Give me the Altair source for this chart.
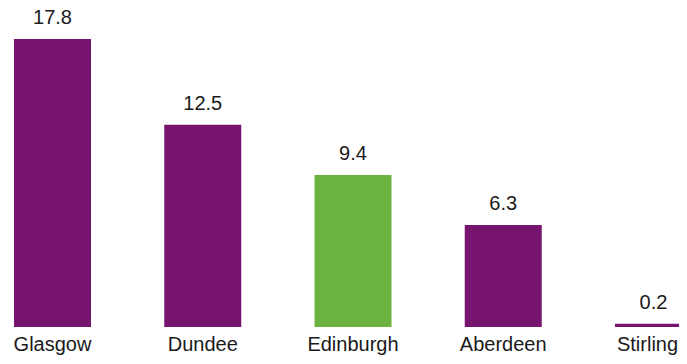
import altair as alt
import pandas as pd

cities = ["Glasgow", "Dundee", "Edinburgh", "Aberdeen", "Stirling"]
values = [17.8, 12.5, 9.4, 6.3, 0.2]
groups = ["other", "other", "highlight", "other", "other"]

df = pd.DataFrame({"city": cities, "value": values, "group": groups})

x = alt.X("city:N", sort=cities, axis=None,
          scale=alt.Scale(range=[6, 684], paddingInner=0.4875, paddingOuter=0, round=False))
y = alt.Y("value:Q", axis=None,
          scale=alt.Scale(domain=[0, 19.72], nice=False, zero=True))

bars = alt.Chart(df).mark_bar().encode(
    x=x, y=y,
    color=alt.Color("group:N",
                    scale=alt.Scale(domain=["other", "highlight"],
                                    range=["#76146F", "#6DB33F"]),
                    legend=None),
)
vals = alt.Chart(df).mark_text(
    font="Liberation Sans", fontSize=20, baseline="alphabetic", dy=-15, color="#1a1a1a"
).encode(x=x, y=y, text=alt.Text("value:Q", format=".1f"))
names = alt.Chart(df).mark_text(
    font="Liberation Sans", fontSize=20, baseline="alphabetic", color="#1a1a1a"
).encode(x=x, y=alt.value(343), text="city:N").transform_filter(
    alt.datum.city != "Stirling")
names_last = alt.Chart(df).mark_text(
    font="Liberation Sans", fontSize=20, baseline="alphabetic", color="#1a1a1a", dx=-6
).encode(x=x, y=alt.value(343), text="city:N").transform_filter(
    alt.datum.city == "Stirling")

chart = alt.layer(bars, vals, names, names_last).properties(
    width=671, height=319,
    padding={"left": 0, "top": 0, "right": 0, "bottom": 29},
    autosize="none",
).configure_view(stroke=None)

chart.save("out.html", embed_options={"renderer": "svg", "actions": False})
